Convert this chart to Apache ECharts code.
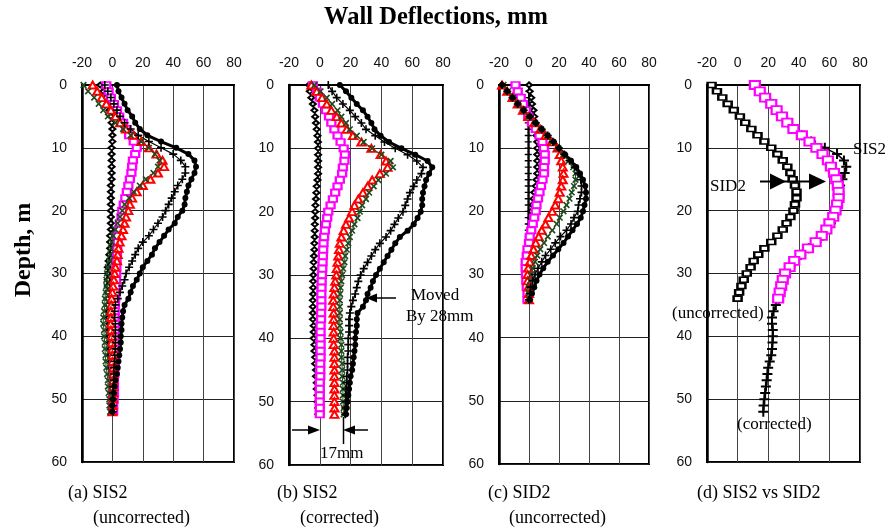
<!DOCTYPE html>
<html>
<head>
<meta charset="utf-8">
<script src="https://cdn.jsdelivr.net/npm/echarts@6/dist/echarts.min.js"></script>
<style>
  html, body { margin: 0; padding: 0; background: #fff; }
  #chart { width: 885px; height: 531px; }
</style>
</head>
<body>
<div id="chart"></div>
<script>
// Depths (m) at which the inclinometer readings are plotted
const depthFull = [0,1,2,3,4,5,6,7,8,9,10,11,12,13,14,15,16,17,18,19,20,21,22,23,24,25,26,
  27,28,29,30,31,32,33,34,35,36,37,38,39,40,41,42,43,44,45,46,47,48,49,50,51,52];
const depthShort = [0,1,2,3,4,5,6,7,8,9,10,11,12,13,14,15,16,17,18,19,20,21,22,23,24,25,26,
  27,28,29,30,31,32,33,34];

const xTicks = [-20, 0, 20, 40, 60, 80];
const yTicks = [0, 10, 20, 30, 40, 50, 60];

// (a) SIS2 uncorrected, deflection (mm)
const aNarrow = [-8,-6,-4.5,-3,-2,-1,-0.5,0,0,0, -0.5,-0.5,-0.5,-0.5,-0.5,-0.5,-1,-1,-1,-1,
  -1,-1,-1,-1,-1.5,-1.5,-1.5,-2,-2.5,-3, -3,-3,-3,-3,-3,-3,-2.5,-2.5,-2,-2,
  -2,-1.5,-1.5,-1.5,-1,-1,-1,-0.5,-0.5,-0.5, 0,0,0];
const aMagenta = [-4,-2.5,-1,1,3,4.5,7,9,11,14, 16,15,13.5,13,12.5,11.5,10.5,9.5,8.5,7.5,
  6.5,6,5,4.5,3.7,3.5,3.2,3,2.8,2.6, 2.5,2.4,2.2,2,1.8,1.6,1.5,1.5,1.5,1.5,
  1.5,1.5,1.5,1.5,1.5,1.2,1.2,1,1,1, 0.8,0.5,0.5];
const aRed = [-13,-10,-7,-4,-1,2,5,9,14,19, 24,29,33,34,30,25,20,16,13,11.5,
  10.5,9,8,7,6,4.8,4,3.5,3,2, 1.5,1,0.5,0,-0.5,-0.7,-1,-1,-1,-1,
  -0.5,-0.5,0,0,0,0.5,0.5,0.5,0.5,0.5, 0.5,0,0];
const aGreen = [-19,-16,-12,-9,-6,-3,2,7,12,19, 24,28,31,30,27,22,18,14,11,8,
  6.5,5,3.5,2,0.5,-0.5,-1,-1.5,-2,-3, -3.5,-4,-4,-4.5,-5,-5,-5.5,-6,-6,-5.5,
  -5.5,-5,-5,-4.5,-4.5,-4,-3.5,-3,-3,-2.5, -2,-2,-1.5];
const aPlus = [-5,-3,-1,1,3,5,8,12,17,24, 32,40,45,48,48,46,43,41,39,37,
  35,33,30,27,24,20,17,15,13,11, 9,8,6.5,5,3.5,2,1.5,1.5,2,2,
  2,2,2,1.5,1.5,1,1,1,0.5,0.5, 0.5,0.5,0.5];
const aDot = [3,4,6,8,10,13,15,18,23,32, 42,50,54,55,54,52,50,49,48,47.5,
  46,43,41,37,34,31,28,26,23,20, 18,16,13.5,12,10.5,8,7,6.5,6,6,
  5.5,5.5,5,4.5,4,3.5,3,2,1.5,1, 0.5,0,0];

// (b) SIS2 corrected, deflection (mm)
const bNarrow = [-7,-6.5,-5.5,-4.5,-3.5,-3,-2.5,-2,-1.5,-1.2, -1.1,-1.1,-1.1,-1.1,-1.1,-1.5,-2,-2.2,-2.5,-2.8,
  -3,-3,-3.2,-3.3,-3.3,-3.5,-3.5,-3.8,-4,-4, -4.2,-4.3,-4.3,-4.3,-4.5,-4.5,-4.5,-4.5,-4,-4,
  -4,-3.5,-3.5,-3,-3,-2.5,-2.5,-2,-2,-1.5, -1.5,-1,-1];
const bMagenta = [-4.5,-2,0,2,4,6,7.5,9.5,11.5,13.5, 15.5,16.3,16,15,14.5,13,11.5,10,8.5,7,
  5.5,4.8,4,3.3,2.8,2.4,2.2,2,1.8,1.6, 1.4,1.2,1.1,1,1,1,0.8,0.8,0.5,0.5,
  0.5,0.5,0.5,0.5,0.3,0.3,0.3,0,0,0, 0,0,0];
const bRed = [-5.5,-2,1.5,4.5,7.5,11,14,17.5,21.5,27, 33.5,39.5,43,44,39,34,31,28,25,22.5,
  21,19,17,15.5,14,13,12.5,12,11.5,11, 10.7,10,9.5,9,8.7,8.7,9,9,9,9,
  9,9,9.5,9.5,9.5,9.5,9.5,9.5,9.5,9.5, 9.5,9.5,9.5];
const bGreen = [-3.5,0.5,4.5,8,11.5,14,17,19.5,24,28.5, 34,40,46,47.5,43,38,35,32,30,27.5,
  26,24.5,22.5,21,19.5,18.5,17.5,16.5,16,15.2, 14.5,14,13.5,13.2,13,13,13,13,13,13.5,
  13.5,14,14,14,14.5,14.5,14.5,15,15,15, 15,15.5,15.5];
const bPlus = [5.5,8,11,15,19.5,23,27,30,36,42, 49,57,63,67,66,63,61,58.5,57,55.5,
  54,51,48.5,46,43,39,36,33.5,31,28.5, 26.5,25,24,23,21.5,20.5,19.5,19,19,19,
  18.5,18.5,18.5,18,18,18,17.5,17.5,17,17, 17,16.5,16.5];
const bDot = [13,17,20.5,24,28,31,33.5,35.5,39.5,45, 53,62,70,73,71,69,68,67,66.5,66.5,
  65.5,63.5,61,57,52,49,46.5,44,41.5,39, 36.5,34.5,33,31,30,28,24.5,24,24,23.5,
  23,23,22.5,22,21.5,21,20,19.5,19,18.5, 18,17.5,17];

// (c) SID2 uncorrected, deflection (mm)
const cNarrowPlus = [0,0,-0.2,-0.3,-0.5,-0.5,-0.5,-0.5,-0.5,-0.5, -0.5,-0.5,-0.5,-0.5,-0.5,-0.5,-0.5,-0.5,-0.5,-0.5,
  -0.5,-0.5,-0.5,-0.5,-0.5,-0.5,-0.5,-0.5,-0.5,-0.5, -0.5,-0.5,-0.3,0,0];
const cNarrow = [0,0.5,1.5,2,3,3.5,4,4.5,5,5.5, 5.5,5.5,5.5,5.5,5.5,5,4.5,3.5,3,2.2,
  1.5,1.2,1,0.8,0.5,0.5,0.3,0,0,0, 0,0,0,0,0];
const cMagenta = [-9,-7.5,-5.5,-4,-2,-0.5,2,4.5,7,9, 10,10.5,10.5,10,10,9,8,7,6,5,
  4.5,3.5,2.5,1.5,0.5,0,-1,-1.5,-2.2,-2.2, -2,-1.8,-1.5,-1,-1];
const cRed = [-18,-14.5,-11,-7.5,-4,-0.5,3.5,7.5,11,15, 19,20.5,21.5,22.5,23,22.5,21.5,20.5,19.5,17.5,
  15.5,13,11,8.5,6.5,4.5,3,1.5,0.5,-0.5, -1,-1,-0.5,0,0];
const cGreen = [-17,-14,-10.5,-7,-3.5,0,4,8,12,15.5, 19.5,23,26.5,29.5,31,31,30,28.5,27,25,
  23,20.5,18.5,15.5,12.5,10,7.5,5.5,4,2.5, 1.5,0.8,0,0,0];
const cPlus = [-18,-14.5,-11,-7.5,-3.5,0.5,4.5,8.5,12.5,16, 20,23.5,27,30.5,33,34.5,35,35,34,33,
  32.5,30,28,25,21,17.5,14.5,11,8.5,6, 4,2.5,1,0.5,0];
const cDot = [-18,-14.5,-11,-7.5,-3.5,0.5,4.5,8.5,12.5,16.5, 20,24,28,31.5,34,36,37.5,38,38,37,
  36,34.5,32,29,26,23,19.5,16,12.5,9.5, 7,5,3.5,2,0.5];

// (d) SIS2 vs SID2, deflection (mm)
const dSID2 = [-17,-13.5,-10,-6.5,-2.5,1.5,5,9,13,17.5, 22,26,29.5,32.5,34.5,36,37.5,38.5,38.5,37.5,
  36.5,34.5,32,29.5,26,22,17.5,13.5,10.5,8.5, 6,4,2.5,1,0];
const dSIS2Uncorr = [11.3,14.5,18,22,25.5,29,32.5,36.5,42,47, 51.5,55.5,59,61,63,64.5,65.5,66,66,65,
  64,62.5,60,58,55,51,46,41,37,34, 31,29.5,28.5,27.5,26.5];
const dSIS2Corr = [12,14.5,18,22,25.5,29,33,37,42,48, 57,65,69.5,71,70,68.5,67,66.5,66.5,65.5,
  64.5,63,61,58.5,55.5,51.5,46.5,41.5,37.5,34.5, 31.5,30,29,28,27,25,23.5,22.5,22.5,23,
  23,22.8,22.5,22,21,20,19.5,19,18.5,18, 17.5,17,16.8];

const MAGENTA = '#ff00ff', RED = '#ff0000', GREEN = '#1e4a1e', BLACK = '#000000';
const PLUS = 'path://M4,0h2v4h4v2h-4v4h-2v-4h-4v-2h4z';

const pair = (xs, ds) => xs.map((v, i) => [v, ds[i]]);

const grids = [
  { left: 82, top: 85, width: 152, height: 377 },
  { left: 289, top: 85, width: 154, height: 380 },
  { left: 499, top: 85, width: 150, height: 379 },
  { left: 707, top: 85, width: 153, height: 377 }
];

function mk(gi, vals, depths, kind) {
  const styles = {
    narrow:  { symbol: 'emptyDiamond', size: [6, 5], color: BLACK, lw: 1, bw: 1 },
    narrowP: { symbol: PLUS, size: 7, color: BLACK, lw: 1, bw: 0 },
    magenta: { symbol: 'emptyRect', size: [8, 6], color: MAGENTA, lw: 1, bw: 1.5 },
    red:     { symbol: 'emptyTriangle', size: [8, 7], color: RED, lw: 1, bw: 1.2 },
    green:   { symbol: PLUS, size: 8, color: GREEN, lw: 1, bw: 0, rot: 45 },
    plus:    { symbol: PLUS, size: 8, color: BLACK, lw: 1.2, bw: 0 },
    dot:     { symbol: 'circle', size: 6, color: BLACK, lw: 3, bw: 0 },
    sid2:    { symbol: 'emptyRect', size: [8, 5], color: BLACK, lw: 1, bw: 1.2 },
    big:     { symbol: 'emptyRect', size: [10, 8], color: MAGENTA, lw: 1, bw: 1.5 },
    bigPlus: { symbol: PLUS, size: 10, color: BLACK, lw: 1.5, bw: 0 }
  }[kind];
  return {
    type: 'line',
    xAxisIndex: gi, yAxisIndex: gi,
    data: pair(vals, depths),
    symbol: styles.symbol,
    symbolSize: styles.size,
    symbolRotate: styles.rot || 0,
    showSymbol: true,
    showAllSymbol: true,
    clip: false,
    silent: true,
    lineStyle: { color: styles.color, width: styles.lw },
    itemStyle: { color: styles.color, borderColor: styles.color, borderWidth: styles.bw }
  };
}

const axisFont = { fontFamily: 'Liberation Sans, Arial, sans-serif', fontSize: 14, color: '#111' };

const xAxes = grids.map((g, i) => ({
  type: 'value', gridIndex: i, position: 'top',
  min: xTicks[0], max: xTicks[xTicks.length - 1], interval: 20,
  axisLine: { show: true, onZero: false, lineStyle: { color: '#000', width: 2 } },
  axisTick: { show: false },
  axisLabel: Object.assign({ margin: 15 }, axisFont),
  splitLine: { show: true, lineStyle: { color: '#444', width: 1 } }
}));
const yAxes = grids.map((g, i) => ({
  type: 'value', gridIndex: i, inverse: true,
  min: yTicks[0], max: yTicks[yTicks.length - 1], interval: 10,
  axisLine: { show: true, onZero: false, lineStyle: { color: '#000', width: 2.5 } },
  axisTick: { show: false },
  axisLabel: Object.assign({ margin: 15 }, axisFont),
  splitLine: { show: true, lineStyle: { color: '#222', width: 1 } }
}));

const series = [
  mk(0, aNarrow, depthFull, 'narrow'),
  mk(0, aMagenta, depthFull, 'magenta'),
  mk(0, aRed, depthFull, 'red'),
  mk(0, aGreen, depthFull, 'green'),
  mk(0, aPlus, depthFull, 'plus'),
  mk(0, aDot, depthFull, 'dot'),

  mk(1, bNarrow, depthFull, 'narrow'),
  mk(1, bMagenta, depthFull, 'magenta'),
  mk(1, bRed, depthFull, 'red'),
  mk(1, bGreen, depthFull, 'green'),
  mk(1, bPlus, depthFull, 'plus'),
  mk(1, bDot, depthFull, 'dot'),

  mk(2, cNarrowPlus, depthShort, 'narrowP'),
  mk(2, cNarrow, depthShort, 'narrow'),
  mk(2, cMagenta, depthShort, 'magenta'),
  mk(2, cRed, depthShort, 'red'),
  mk(2, cGreen, depthShort, 'green'),
  mk(2, cPlus, depthShort, 'plus'),
  mk(2, cDot, depthShort, 'dot'),

  mk(3, dSID2, depthShort, 'sid2'),
  mk(3, dSIS2Corr, depthFull, 'bigPlus'),
  mk(3, dSIS2Uncorr, depthShort, 'big')
];

const serif = 'Liberation Serif, Times New Roman, serif';
function txt(text, x, y, size, opts) {
  return {
    type: 'text', silent: true, z: 100,
    x: x, y: y,
    rotation: (opts && opts.rot) || 0,
    style: {
      text: text, fill: '#000',
      font: ((opts && opts.bold) ? 'bold ' : '') + size + 'px ' + serif,
      textAlign: (opts && opts.align) || 'left',
      textVerticalAlign: 'middle'
    }
  };
}
function seg(x1, y1, x2, y2, w) {
  return { type: 'line', silent: true, z: 100,
    shape: { x1: x1, y1: y1, x2: x2, y2: y2 },
    style: { stroke: '#000', lineWidth: w } };
}
function head(points) {
  return { type: 'polygon', silent: true, z: 100,
    shape: { points: points }, style: { fill: '#000' } };
}

const graphics = [
  txt('Wall Deflections, mm', 436, 18, 24.5, { bold: true, align: 'center' }),
  txt('Depth, m', 24, 250, 24, { bold: true, align: 'center', rot: Math.PI / 2 }),

  txt('(a) SIS2', 68, 493, 18),
  txt('(uncorrected)', 93, 518, 18),
  txt('(b) SIS2', 277, 493, 18),
  txt('(corrected)', 300, 518, 18),
  txt('(c) SID2', 488, 493, 18),
  txt('(uncorrected)', 509, 518, 18),
  txt('(d) SIS2 vs SID2', 697, 493, 18),

  // (b) notes
  txt('Moved', 411, 296, 17),
  txt('By 28mm', 406, 317, 17),
  seg(374, 298, 396, 298, 1.5),
  head([[366, 298], [377, 293.5], [377, 302.5]]),
  txt('17mm', 320, 454, 17),
  seg(292, 430, 311, 430, 1.5),
  head([[320, 430], [308, 425.5], [308, 434.5]]),
  seg(343.5, 417, 343.5, 444, 1.5),
  seg(352, 430, 368, 430, 1.5),
  head([[343, 430], [355, 425.5], [355, 434.5]]),

  // (d) notes
  txt('SIS2', 853, 150, 17),
  txt('SID2', 710, 187, 17),
  txt('(uncorrected)', 672, 314, 17),
  txt('(corrected)', 737, 425, 17),
  seg(760, 181.5, 809, 181.5, 2),
  head([[786, 181.5], [770, 173.5], [770, 189.5]]),
  head([[826, 181.5], [809, 173.5], [809, 189.5]])
];

const chart = echarts.init(document.getElementById('chart'), null, { renderer: 'canvas' });
chart.setOption({
  backgroundColor: '#fff',
  animation: false,
  grid: grids.map(g => Object.assign({ show: true, borderColor: '#000', borderWidth: 2, backgroundColor: 'transparent' }, g)),
  xAxis: xAxes,
  yAxis: yAxes,
  series: series,
  graphic: graphics
});
</script>
</body>
</html>
